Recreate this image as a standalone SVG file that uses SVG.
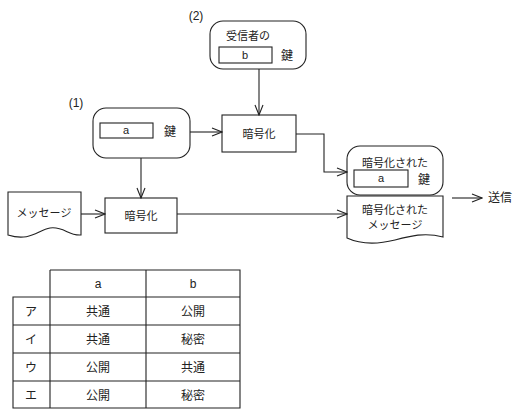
<svg xmlns="http://www.w3.org/2000/svg" width="530" height="415" viewBox="0 0 530 415">
<style>
.s{fill:#fff;stroke:#222;stroke-width:1.1}
.t{font-family:"Liberation Sans","Noto Sans CJK JP",sans-serif;font-size:11px;fill:#222;text-anchor:middle}
.tb{font-size:12px}
.l{fill:none;stroke:#222;stroke-width:1.1}
</style>
<defs>
<marker id="ar" markerWidth="12" markerHeight="10" refX="11" refY="5" orient="auto" markerUnits="userSpaceOnUse">
<polyline points="1,1 11,5 1,9" fill="none" stroke="#222" stroke-width="1.1"/>
</marker>
</defs>
<rect width="530" height="415" fill="#fff"/>
<text class="t tb" x="196" y="20">(2)</text>
<text class="t tb" x="76" y="107">(1)</text>
<g id="recvkey">
<rect class="s" x="210" y="21" width="96" height="48" rx="13"/>
<text class="t" x="248" y="40">受信者の</text>
<rect class="s" x="219" y="47" width="53" height="16"/>
<text class="t" x="245" y="59">b</text>
<text class="t tb" x="287" y="60">鍵</text>
</g>
<g id="keya">
<rect class="s" x="93" y="108" width="97" height="50" rx="13"/>
<rect class="s" x="100" y="123" width="53" height="15"/>
<text class="t" x="126" y="134">a</text>
<text class="t tb" x="170" y="136">鍵</text>
</g>
<g id="enc1">
<rect class="s" x="222" y="115" width="74" height="37"/>
<text class="t" x="259" y="138">暗号化</text>
</g>
<g id="msg">
<path class="s" d="M8,192 H81 V235 C68,236 64,226 50,228 C38,230 30,242 8,235 Z"/>
<text class="t" x="44" y="217">メッセージ</text>
</g>
<g id="enc2">
<rect class="s" x="105" y="198" width="72" height="35"/>
<text class="t" x="141" y="220">暗号化</text>
</g>
<g id="enckey">
<rect class="s" x="347" y="146" width="96" height="49" rx="13"/>
<text class="t" x="395" y="167">暗号化された</text>
<rect class="s" x="354" y="170" width="54" height="17"/>
<text class="t" x="381" y="182">a</text>
<text class="t tb" x="424" y="184">鍵</text>
</g>
<g id="encmsg">
<path class="s" d="M347,196 H443 V237 C425,232 410,236 395,240 C375,245 360,244 347,238 Z"/>
<text class="t" x="395" y="214">暗号化された</text>
<text class="t" x="395" y="229">メッセージ</text>
</g>
<g id="send">
<text class="t tb" x="500" y="202">送信</text>
</g>
<g id="connectors">
<line class="l" x1="259" y1="69" x2="259" y2="115" marker-end="url(#ar)"/>
<line class="l" x1="190" y1="132" x2="222" y2="132" marker-end="url(#ar)"/>
<polyline class="l" points="296,134 324,134 324,172 347,172" marker-end="url(#ar)"/>
<line class="l" x1="141" y1="158" x2="141" y2="198" marker-end="url(#ar)"/>
<line class="l" x1="81" y1="214" x2="105" y2="214" marker-end="url(#ar)"/>
<line class="l" x1="177" y1="214" x2="347" y2="214" marker-end="url(#ar)"/>
<line class="l" x1="452" y1="198" x2="482" y2="198" marker-end="url(#ar)"/>
</g>
<g id="table">
<path class="l" d="M50,270 H240 V408 H13 V297 H240 M50,270 V408 M146,270 V408 M13,325 H240 M13,353 H240 M13,381 H240"/>
<text class="t tb" x="98" y="288">a</text>
<text class="t tb" x="193" y="288">b</text>
<text class="t tb" x="31" y="316">ア</text>
<text class="t tb" x="98" y="316">共通</text>
<text class="t tb" x="193" y="316">公開</text>
<text class="t tb" x="31" y="344">イ</text>
<text class="t tb" x="98" y="344">共通</text>
<text class="t tb" x="193" y="344">秘密</text>
<text class="t tb" x="31" y="372">ウ</text>
<text class="t tb" x="98" y="372">公開</text>
<text class="t tb" x="193" y="372">共通</text>
<text class="t tb" x="31" y="400">エ</text>
<text class="t tb" x="98" y="400">公開</text>
<text class="t tb" x="193" y="400">秘密</text>
</g>
</svg>
